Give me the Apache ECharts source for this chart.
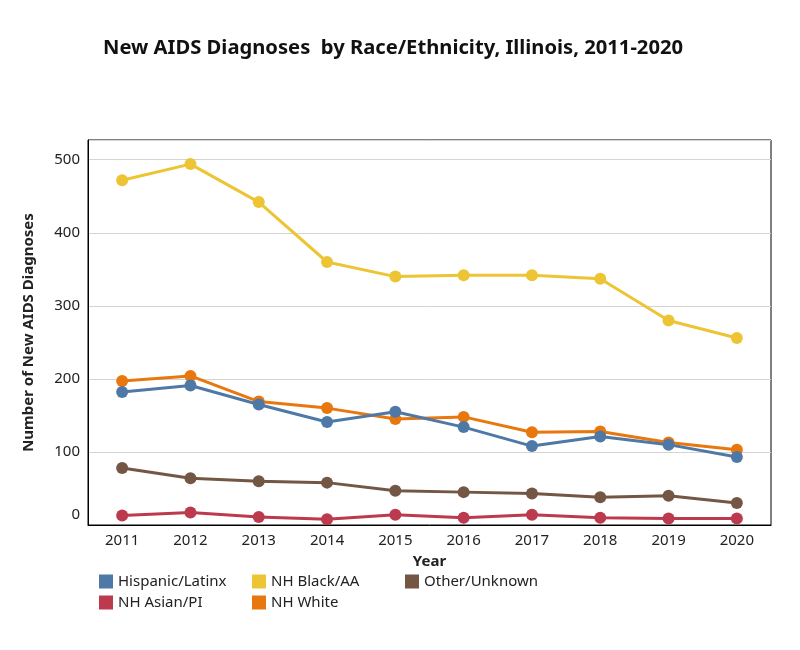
<!DOCTYPE html>
<html><head><meta charset="utf-8">
<script src="https://cdn.jsdelivr.net/npm/echarts@6/dist/echarts.min.js"></script>
<style>html,body{margin:0;padding:0;background:#fff}#c{width:800px;height:650px}</style>
</head><body><div id="c"></div>
<script>
const years = ['2011','2012','2013','2014','2015','2016','2017','2018','2019','2020'];
const hispanic = [182, 191, 165, 141, 155, 134, 108, 121, 110, 93];
const asian    = [13, 17, 11, 8, 14, 10, 14, 10, 9, 9];
const black    = [472, 494, 442, 360, 340, 342, 342, 337, 280, 256];
const white    = [197, 204, 169, 160, 145, 148, 127, 128, 113, 103];
const other    = [78, 64, 60, 58, 47, 45, 43, 38, 40, 30];
const yTicks = [0, 100, 200, 300, 400, 500];

const names = ['Hispanic/Latinx','NH Asian/PI','NH Black/AA','NH White','Other/Unknown'];
const colors = ['#4E79A7','#BC3A4E','#EDC433','#E8770E','#735643'];
const datas = [hispanic, asian, black, white, other];
const FONT = 'Noto Sans';

const series = names.map((n,i)=>({
  name: n, type: 'line', data: datas[i],
  symbol: 'circle', symbolSize: 12,
  lineStyle: {width: 3, color: colors[i]},
  itemStyle: {color: colors[i]},
  z: 10 - i
}));
const legendBase = {icon: 'rect', itemWidth: 14, itemHeight: 14, itemGap: 6, orient: 'vertical',
  textStyle: {fontFamily: FONT, fontSize: 15, color: '#222'}, selectedMode: false};

const chart = echarts.init(document.getElementById('c'), null, {renderer: 'canvas'});
chart.setOption({
  animation: false,
  color: colors,
  title: {text: 'New AIDS Diagnoses  by Race/Ethnicity, Illinois, 2011-2020', left: 98, top: 33,
    textStyle: {fontFamily: FONT, fontSize: 20.2, fontWeight: 'bold', color: '#111'}},
  legend: [
    Object.assign({}, legendBase, {data: [names[0], names[1]], left: 94, top: 569}),
    Object.assign({}, legendBase, {data: [names[2], names[3]], left: 247, top: 569}),
    Object.assign({}, legendBase, {data: [names[4]], left: 400, top: 569})
  ],
  grid: {left: 88, right: 29, top: 140, bottom: 125, show: true, borderColor: '#000', borderWidth: 1, containLabel: false},
  xAxis: {type: 'category', data: years, boundaryGap: true,
    name: 'Year', nameLocation: 'middle', nameGap: 29,
    nameTextStyle: {fontFamily: FONT, fontSize: 15, fontWeight: 'bold', color: '#222'},
    axisLine: {show: true, lineStyle: {color: '#000'}}, axisTick: {show: false},
    axisLabel: {fontFamily: FONT, fontSize: 15, color: '#222', margin: 8}},
  yAxis: {type: 'value', min: 0, max: 527, interval: 100,
    name: 'Number of New AIDS Diagnoses', nameLocation: 'middle', nameGap: 52, nameRotate: 90,
    nameTextStyle: {fontFamily: FONT, fontSize: 15, fontWeight: 'bold', color: '#222'},
    axisLine: {show: true, lineStyle: {color: '#000'}}, axisTick: {show: false},
    splitLine: {lineStyle: {color: '#d4d4d4', width: 1}},
    axisLabel: {fontFamily: FONT, fontSize: 15, color: '#222', margin: 8, showMaxLabel: false,
      formatter: v => (yTicks.indexOf(v) >= 0 ? (v === 0 ? '{z|0}' : String(v)) : ''),
      rich: {z: {fontFamily: FONT, fontSize: 15, color: '#222', padding: [0,0,20,0]}}}},
  series: series
});
</script></body></html>
